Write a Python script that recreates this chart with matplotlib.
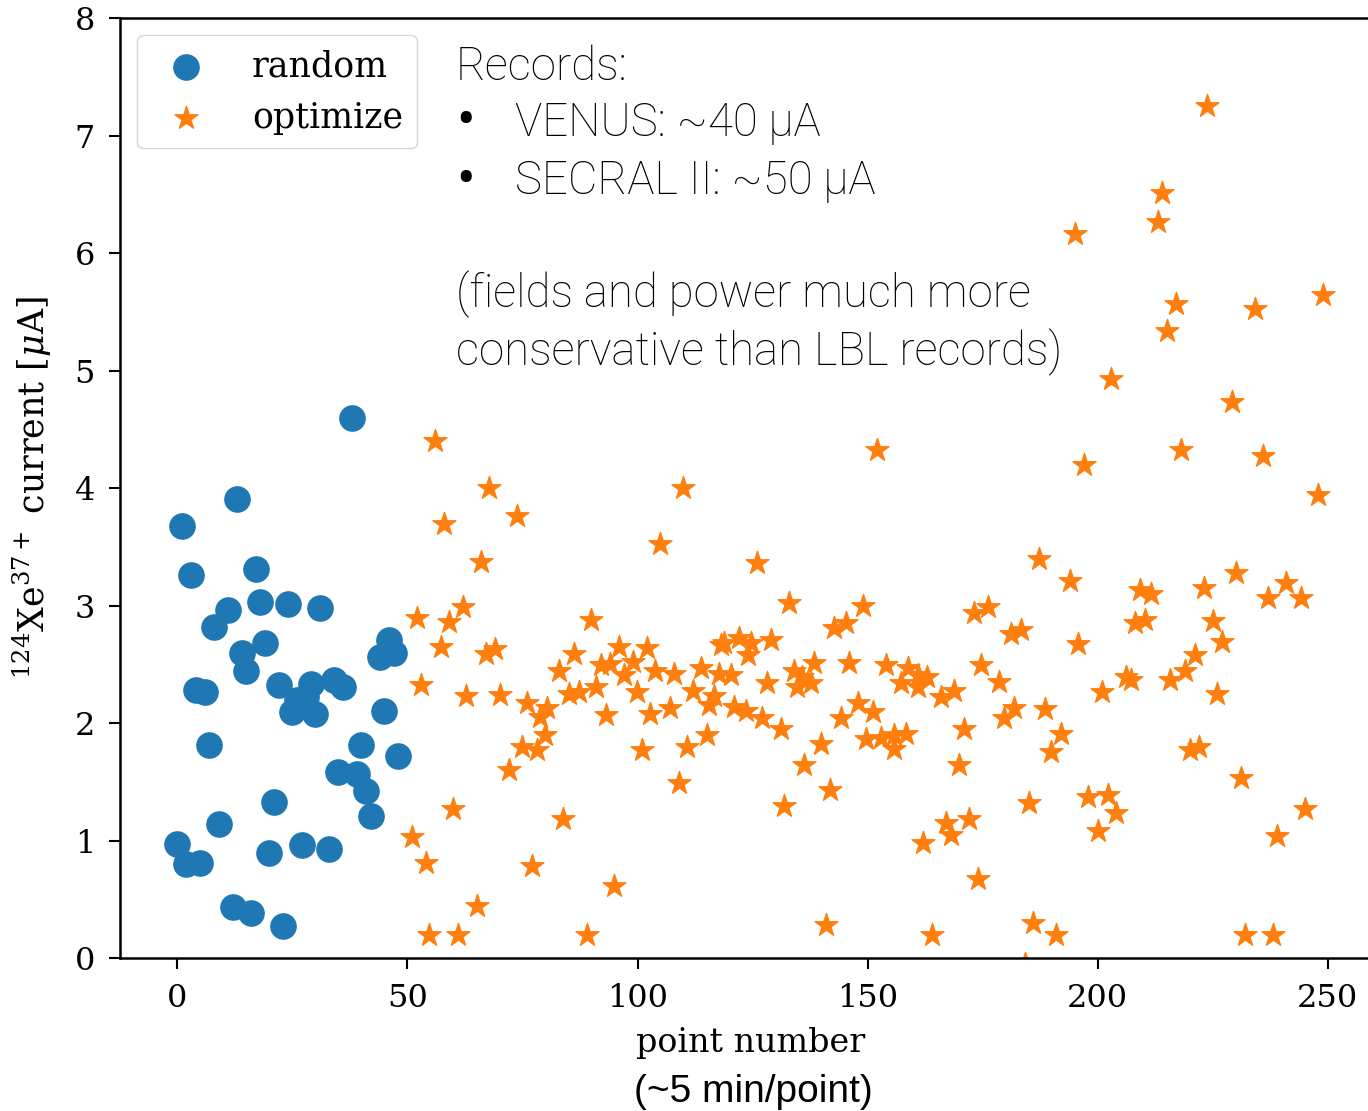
import matplotlib
matplotlib.use("Agg")
import matplotlib.pyplot as plt
import numpy as np

# random sampling phase: (point number, current in uA)
random_x = [0, 1, 2, 3, 4, 5, 6, 7, 8, 9, 11, 12, 13, 14, 15, 16, 17, 18, 19, 20,
            21, 22, 23, 24, 25, 26, 27, 28, 29, 30, 31, 33, 34, 35, 36, 38, 39, 40,
            41, 42, 44, 45, 46, 47, 48]
random_y = [0.97, 3.68, 0.80, 3.26, 2.28, 0.81, 2.26, 1.81, 2.82, 1.14, 2.96, 0.43,
            3.91, 2.60, 2.44, 0.38, 3.31, 3.03, 2.68, 0.89, 1.33, 2.32, 0.27, 3.01,
            2.09, 2.20, 0.96, 2.22, 2.33, 2.08, 2.98, 0.93, 2.37, 1.58, 2.31, 4.60,
            1.57, 1.81, 1.42, 1.21, 2.56, 2.10, 2.71, 2.60, 1.72]

# optimizer phase
opt_x = [51.0, 52.1, 53.0, 54.1, 54.8, 55.9, 57.2, 57.9, 59.0, 59.9, 60.9, 62.1, 62.8,
         65.1, 65.9, 67.0, 67.7, 69.1, 70.1, 72.0, 73.8, 74.9, 75.9, 77.0, 78.2, 78.9,
         80.0, 80.4, 83.0, 83.8, 85.1, 86.2, 87.3, 89.1, 90.0, 90.9, 92.0, 93.1, 94.1,
         94.9, 96.0, 97.0, 99.1, 99.9, 101.0, 102.1, 102.8, 103.9, 104.8, 107.0, 107.9,
         109.0, 109.9, 110.8, 112.1, 113.7, 115.2, 115.5, 116.6, 117.7, 118.1, 118.8,
         120.3, 120.9, 122.1, 123.5, 123.9, 124.6, 126.0, 127.1, 128.2, 129.0, 131.1,
         131.9, 133.0, 134.0, 134.7, 135.8, 136.1, 137.7, 138.4, 139.8, 140.9, 141.9,
         142.7, 144.2, 145.3, 146.0, 147.8, 149.1, 149.6, 151.1, 152.1, 152.9, 154.0,
         155.8, 155.8, 157.2, 158.3, 158.7, 160.9, 160.9, 162.0, 163.0, 164.0, 165.9,
         167.0, 168.1, 168.8, 169.9, 170.9, 172.0, 173.2, 173.9, 174.6, 176.1, 178.6,
         179.7, 181.2, 181.9, 183.3, 184.1, 185.0, 186.0, 187.3, 188.5, 189.9, 191.0,
         192.1, 194.0, 195.0, 195.8, 197.1, 197.9, 200.0, 201.0, 202.2, 202.9, 204.0,
         206.2, 207.3, 208.0, 209.1, 210.2, 211.6, 213.1, 214.0, 215.0, 215.6, 216.9,
         218.0, 218.9, 220.0, 221.1, 222.1, 223.0, 223.8, 225.0, 226.0, 226.9, 229.2,
         230.0, 231.1, 232.0, 234.1, 235.9, 237.0, 238.0, 239.0, 241.0, 244.1, 245.0,
         247.9, 249.0]
opt_y = [1.03, 2.89, 2.32, 0.81, 0.20, 4.40, 2.65, 3.69, 2.86, 1.27, 0.20, 2.99, 2.23,
         0.44, 3.37, 2.59, 4.00, 2.63, 2.24, 1.60, 3.76, 1.80, 2.17, 0.78, 1.77, 2.05,
         1.90, 2.13, 2.44, 1.18, 2.25, 2.59, 2.26, 0.20, 2.88, 2.31, 2.49, 2.07, 2.50,
         0.61, 2.65, 2.41, 2.52, 2.26, 1.77, 2.64, 2.08, 2.44, 3.52, 2.13, 2.42,
         1.49, 4.00, 1.80, 2.27, 2.47, 1.90, 2.15, 2.23, 2.42, 2.66, 2.68,
         2.41, 2.14, 2.72, 2.10, 2.58, 2.68, 3.36, 2.04, 2.34, 2.71, 1.95,
         1.29, 3.02, 2.44, 2.31, 2.39, 1.64, 2.34, 2.51, 1.82, 0.28, 1.43,
         2.81, 2.04, 2.85, 2.51, 2.17, 3.00, 1.86, 2.09, 4.32, 1.87, 2.49,
         1.90, 1.78, 2.34, 1.91, 2.47, 2.41, 2.31, 0.98, 2.39, 0.20, 2.22,
         1.15, 1.05, 2.27, 1.64, 1.95, 1.18, 2.94, 0.67, 2.49, 2.99, 2.35,
         2.04, 2.76, 2.13, 2.79, -0.05, 1.32, 0.30, 3.40, 2.12, 1.75, 0.20,
         1.91, 3.21, 6.16, 2.67, 4.20, 1.37, 1.08, 2.26, 1.39, 4.93, 1.23,
         2.39, 2.37, 2.85, 3.13, 2.88, 3.10, 6.26, 6.51, 5.34, 2.37, 5.57,
         4.32, 2.44, 1.77, 2.58, 1.80, 3.15, 7.25, 2.87, 2.25, 2.69, 4.73,
         3.28, 1.53, 0.20, 5.52, 4.27, 3.06, 0.20, 1.04, 3.19, 3.06, 1.27,
         3.94, 5.64]

plt.rcParams['font.family'] = 'DejaVu Serif'
plt.rcParams['mathtext.fontset'] = 'dejavuserif'

fig = plt.figure(figsize=(13.68, 11.11), dpi=100)
ax = fig.add_axes([0.0877, 0.1377, 0.9215, 0.8461])

ax.scatter(random_x, random_y, s=330, marker='o', color='#1f77b4', label='random')
ax.scatter(opt_x, opt_y, s=300, marker='*', color='#ff7f0e', label='optimize')

ax.set_xlim(-12.45, 261.45)
ax.set_ylim(0, 8)
ax.set_xticks([0, 50, 100, 150, 200, 250])
ax.set_yticks(range(0, 9))
ax.tick_params(labelsize=23, length=8, width=1.5, pad=10)
for sp in ax.spines.values():
    sp.set_linewidth(1.8)

ax.set_xlabel('point number', fontsize=24, labelpad=9)
ax.set_ylabel(r'$^{124}$Xe$^{37+}$ current [$\mu$A]', fontsize=25)
ax.yaxis.set_label_coords(-0.052, 0.5)

ax.legend(loc='upper left', fontsize=25, scatterpoints=1, handletextpad=0.9,
          labelspacing=0.5, framealpha=0.8, edgecolor='#cccccc')

note = dict(family='Roboto', weight='light', fontsize=32.8, color='black')
bullet = dict(family='Roboto', weight='normal', fontsize=40, color='black')
fig.text(0.3333, 0.928, 'Records:', va='baseline', **note)
fig.text(0.3333, 0.876, '•', va='baseline', **bullet)
fig.text(0.3765, 0.878, 'VENUS: ~40 μA', va='baseline', **note)
fig.text(0.3333, 0.823, '•', va='baseline', **bullet)
fig.text(0.3765, 0.825, 'SECRAL II: ~50 μA', va='baseline', **note)
fig.text(0.3333, 0.723, '(fields and power much more', va='baseline', **note)
fig.text(0.3333, 0.671, 'conservative than LBL records)', va='baseline', **note)

fig.text(0.5504, 0.0171, '(~5 min/point)', ha='center', va='center',
         family='Liberation Sans', fontsize=28)

fig.savefig('out.png', dpi=100)
